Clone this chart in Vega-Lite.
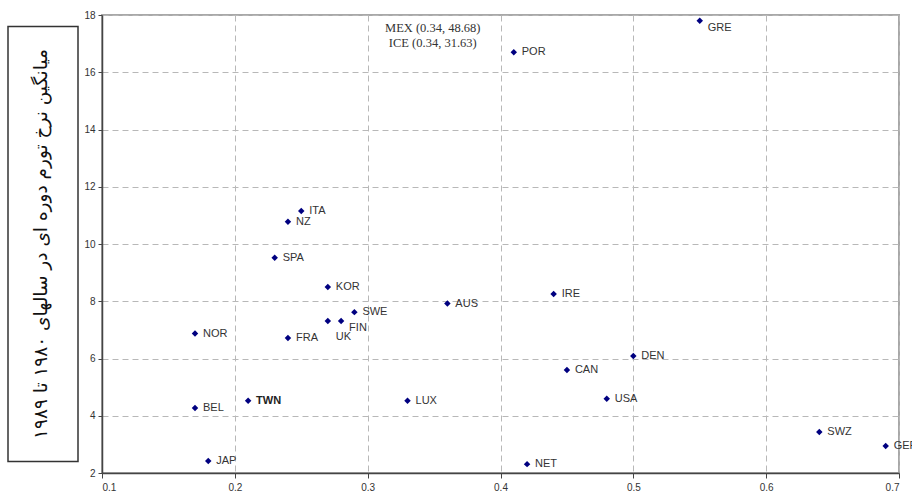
{
  "$schema": "https://vega.github.io/schema/vega-lite/v6.json",
  "background": "white",
  "padding": {"left": 7, "top": 9, "right": 0, "bottom": 0},
  "bounds": "flush",
  "center": true,
  "spacing": 24,
  "config": {"font": "Liberation Sans"},
  "datasets": {
    "countries": [
      {"country": "GRE", "x": 0.55, "y": 17.8},
      {"country": "POR", "x": 0.41, "y": 16.7},
      {"country": "ITA", "x": 0.25, "y": 11.15},
      {"country": "NZ", "x": 0.24, "y": 10.78},
      {"country": "SPA", "x": 0.23, "y": 9.52},
      {"country": "KOR", "x": 0.27, "y": 8.5},
      {"country": "IRE", "x": 0.44, "y": 8.25},
      {"country": "AUS", "x": 0.36, "y": 7.92},
      {"country": "SWE", "x": 0.29, "y": 7.62},
      {"country": "UK", "x": 0.27, "y": 7.31},
      {"country": "FIN", "x": 0.28, "y": 7.31},
      {"country": "NOR", "x": 0.17, "y": 6.87},
      {"country": "FRA", "x": 0.24, "y": 6.72},
      {"country": "DEN", "x": 0.5, "y": 6.09},
      {"country": "CAN", "x": 0.45, "y": 5.6},
      {"country": "USA", "x": 0.48, "y": 4.59},
      {"country": "LUX", "x": 0.33, "y": 4.52},
      {"country": "TWN", "x": 0.21, "y": 4.52},
      {"country": "BEL", "x": 0.17, "y": 4.27},
      {"country": "SWZ", "x": 0.64, "y": 3.43},
      {"country": "GER", "x": 0.69, "y": 2.94},
      {"country": "JAP", "x": 0.18, "y": 2.42},
      {"country": "NET", "x": 0.42, "y": 2.31}
    ],
    "notes": [
      {"label": "MEX (0.34, 48.68)", "x": 0.349, "y": 17.55},
      {"label": "ICE (0.34, 31.63)", "x": 0.349, "y": 17.03}
    ]
  },
  "hconcat": [
    {
      "width": 70,
      "height": 435,
      "view": {"stroke": "#333333", "strokeWidth": 1.5},
      "data": {"values": [{"t": "میانگین نرخ تورم دوره ای در سالهای ۱۹۸۰ تا ۱۹۸۹"}]},
      "mark": {"type": "text", "angle": 270, "font": "DejaVu Sans", "fontSize": 18.5, "color": "#111111", "align": "center", "baseline": "middle", "dy": -2},
      "encoding": {"text": {"field": "t"}}
    },
    {
      "width": 797,
      "height": 458,
      "view": {"stroke": "#a8a8a8", "strokeWidth": 2},
      "data": {"name": "countries"},
      "encoding": {
        "x": {
          "field": "x", "type": "quantitative",
          "scale": {"domain": [0.1, 0.7], "nice": false, "zero": false},
          "axis": {
            "title": null, "values": [0.1, 0.2, 0.3, 0.4, 0.5, 0.6, 0.7], "format": ".1f",
            "labelFontSize": 10, "labelColor": "#333333", "labelPadding": 4,
            "tickSize": 5, "tickColor": "#444444", "domainColor": "#444444", "domainWidth": 1.5,
            "grid": true, "gridDash": [6, 4], "gridColor": "#b8b8b8", "gridWidth": 1
          }
        },
        "y": {
          "field": "y", "type": "quantitative",
          "scale": {"domain": [2, 18], "nice": false, "zero": false},
          "axis": {
            "title": null, "values": [2, 4, 6, 8, 10, 12, 14, 16, 18],
            "labelFontSize": 10, "labelColor": "#333333", "labelPadding": 3,
            "tickSize": 4, "tickColor": "#444444", "domainColor": "#444444", "domainWidth": 1.5,
            "grid": true, "gridDash": [6, 4], "gridColor": "#b8b8b8", "gridWidth": 1
          }
        }
      },
      "layer": [
        {
          "mark": {"type": "point", "shape": "diamond", "filled": true, "color": "#000080", "size": 42, "opacity": 1}
        },
        {
          "transform": [{"filter": {"not": {"field": "country", "oneOf": ["GRE", "FIN", "UK", "TWN"]}}}],
          "mark": {"type": "text", "align": "left", "baseline": "middle", "dx": 8, "fontSize": 11, "color": "#333333"},
          "encoding": {"text": {"field": "country"}}
        },
        {
          "transform": [{"filter": {"field": "country", "equal": "TWN"}}],
          "mark": {"type": "text", "align": "left", "baseline": "middle", "dx": 8, "fontSize": 11, "fontWeight": "bold", "color": "#222222"},
          "encoding": {"text": {"field": "country"}}
        },
        {
          "transform": [{"filter": {"field": "country", "oneOf": ["GRE", "FIN"]}}],
          "mark": {"type": "text", "align": "left", "baseline": "middle", "dx": 8, "dy": 7, "fontSize": 11, "color": "#333333"},
          "encoding": {"text": {"field": "country"}}
        },
        {
          "transform": [{"filter": {"field": "country", "equal": "UK"}}],
          "mark": {"type": "text", "align": "left", "baseline": "middle", "dx": 8, "dy": 16, "fontSize": 11, "color": "#333333"},
          "encoding": {"text": {"field": "country"}}
        },
        {
          "data": {"name": "notes"},
          "mark": {"type": "text", "align": "center", "baseline": "middle", "font": "Liberation Serif", "fontSize": 12.5, "color": "#333333"},
          "encoding": {"text": {"field": "label"}}
        }
      ]
    }
  ]
}
